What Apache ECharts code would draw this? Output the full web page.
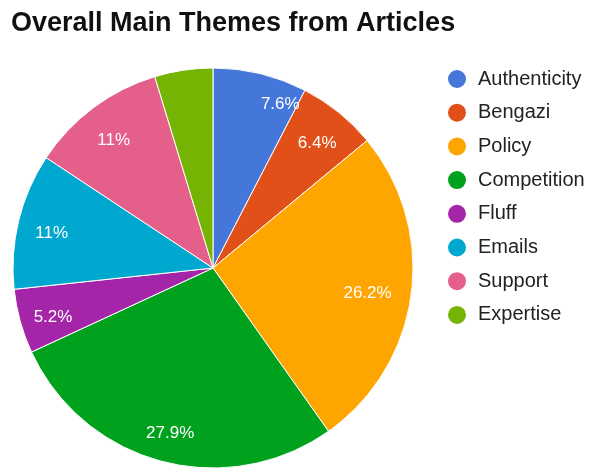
<!DOCTYPE html>
<html>
<head>
<meta charset="utf-8">
<script src="https://cdn.jsdelivr.net/npm/echarts@6/dist/echarts.min.js"></script>
<style>
  html, body { margin: 0; padding: 0; background: #fff; }
  #chart { width: 598px; height: 470px; }
</style>
</head>
<body>
<div id="chart"></div>
<script>
// Share of main themes across the articles (percent)
const themes = ['Authenticity', 'Bengazi', 'Policy', 'Competition', 'Fluff', 'Emails', 'Support', 'Expertise'];
const shares = [7.6, 6.4, 26.2, 27.9, 5.2, 11, 11, 4.7];
const colors = ['#4477d9', '#e2501a', '#ffa500', '#00a11d', '#a425a7', '#00a8cf', '#e45f8a', '#76b404'];
// slices too thin to carry a label
const hideLabel = ['Expertise'];

const font = 'Liberation Sans, Arial, sans-serif';

const sliceData = themes.map((name, i) => ({
  name: name,
  value: shares[i],
  itemStyle: { color: colors[i] }
}));

const labelData = themes.map((name, i) => ({
  name: name,
  value: shares[i],
  label: { show: hideLabel.indexOf(name) < 0 }
}));

// small nudges so the labels sit clear of the slice edges
function nudgeLabel(params) {
  const shift = { dx: 0, dy: 5 };
  if (params.dataIndex === 0) { shift.dx = 28; shift.dy = -2; }
  if (params.dataIndex === 2) { shift.dx = -10; shift.dy = 3; }
  return shift;
}

const chart = echarts.init(document.getElementById('chart'), null, { renderer: 'canvas' });
chart.setOption({
  animation: false,
  title: {
    text: 'Overall Main Themes from Articles',
    left: 11,
    top: 10,
    padding: 0,
    textStyle: { fontFamily: font, fontWeight: 'bold', fontSize: 27, color: '#111' }
  },
  legend: {
    orient: 'vertical',
    left: 446,
    top: 68,
    padding: 0,
    icon: 'circle',
    itemWidth: 20,
    itemHeight: 20,
    itemGap: 11.7,
    data: themes,
    textStyle: { fontFamily: font, fontSize: 20, lineHeight: 20, color: '#222', padding: [0, 0, 0, 6] }
  },
  series: [
    {
      type: 'pie',
      center: [213, 268],
      radius: [0, 200],
      startAngle: 90,
      clockwise: true,
      avoidLabelOverlap: false,
      label: { show: false },
      labelLine: { show: false },
      itemStyle: { borderColor: '#fff', borderWidth: 1 },
      emphasis: { disabled: true },
      data: sliceData
    },
    {
      // transparent ring used only to place the percentage labels
      type: 'pie',
      center: [213, 268],
      radius: [126, 200],
      startAngle: 90,
      clockwise: true,
      silent: true,
      avoidLabelOverlap: false,
      itemStyle: { color: 'rgba(0,0,0,0)' },
      label: {
        show: true,
        position: 'inside',
        formatter: p => p.value + '%',
        color: '#fff',
        fontFamily: font,
        fontSize: 17
      },
      labelLine: { show: false },
      labelLayout: nudgeLabel,
      emphasis: { disabled: true },
      data: labelData
    }
  ]
});
</script>
</body>
</html>
